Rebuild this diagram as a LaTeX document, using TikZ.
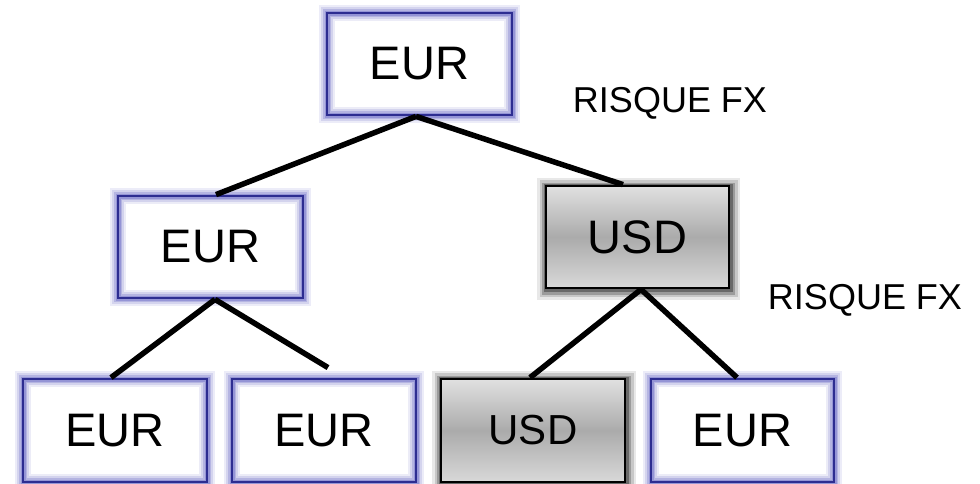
\documentclass[tikz,border=0pt]{standalone}
\usepackage{fontspec}
\setmainfont{Liberation Sans}
\definecolor{glowcol}{RGB}{100,100,195}
\definecolor{bordercol}{RGB}{45,45,145}
\begin{document}
\begin{tikzpicture}[x=1pt,y=1pt,
  eurbox/.style={rectangle, draw=bordercol, line width=2.8pt,
    minimum width=185pt, minimum height=102pt, inner sep=0pt,
    font=\fontsize{47}{50}\selectfont,
    preaction={fill=white},
    preaction={draw=glowcol, line width=16pt, draw opacity=0.12},
    preaction={draw=glowcol, line width=12pt, draw opacity=0.18},
    preaction={draw=glowcol, line width=8pt, draw opacity=0.28},
    preaction={draw=glowcol, line width=5pt, draw opacity=0.40}},
  usdbox/.style={rectangle, draw=black, line width=2.8pt,
    minimum width=184pt, minimum height=102pt, inner sep=0pt,
    font=\fontsize{47}{50}\selectfont,
    top color=black!12, bottom color=black!15, middle color=black!33,
    preaction={draw=black, line width=20pt, draw opacity=0.09, transform canvas={xshift=1pt,yshift=-1.5pt}},
    preaction={draw=black, line width=15pt, draw opacity=0.14, transform canvas={xshift=1pt,yshift=-1.5pt}},
    preaction={draw=black, line width=10pt, draw opacity=0.22, transform canvas={xshift=1pt,yshift=-1.5pt}},
    preaction={draw=black, line width=6pt, draw opacity=0.32, transform canvas={xshift=0.5pt,yshift=-1pt}}},
  link/.style={line width=5.5pt, black},
  risk/.style={font=\fontsize{36}{40}\selectfont, inner sep=0pt}
]
\useasboundingbox (0,0) rectangle (980,-483);
\node[eurbox] (top) at (419.5,-64) {EUR};
\node[eurbox] (meur) at (210.5,-247) {EUR};
\node[usdbox, minimum width=183pt] (musd) at (637.5,-237) {USD};
\node[eurbox, minimum width=184pt, minimum height=103pt] (b1) at (115,-430.5) {EUR};
\node[eurbox, minimum width=184pt, minimum height=103pt] (b2) at (324,-430.5) {EUR};
\node[usdbox, minimum height=103pt, font=\fontsize{42}{46}\selectfont] (b3) at (533,-430.5) {USD};
\node[eurbox, minimum width=183pt, minimum height=103pt] (b4) at (742.5,-430.5) {EUR};
\node[risk] (r1) at (670,-103.5) {RISQUE FX};
\node[risk] (r2) at (865,-300) {RISQUE FX};
\draw[link] ([xshift=-3.5pt]top.south) -- ([xshift=5.5pt]meur.north);
\draw[link] ([xshift=-3.5pt]top.south) -- ([xshift=-14.5pt]musd.north);
\draw[link] ([xshift=4.5pt]meur.south) -- ([xshift=-4pt]b1.north);
\draw[link] ([xshift=4.5pt]meur.south) -- ([xshift=4pt,yshift=10pt]b2.north);
\draw[link] ([xshift=3.5pt]musd.south) -- ([xshift=-3pt]b3.north);
\draw[link] ([xshift=3.5pt]musd.south) -- ([xshift=-5.5pt]b4.north);
\end{tikzpicture}
\end{document}
